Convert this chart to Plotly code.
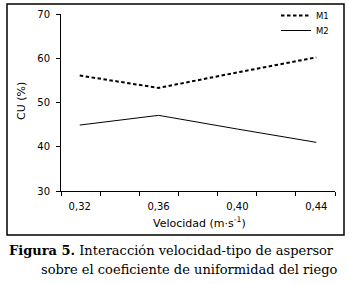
import plotly.graph_objects as go

# ---- data ----
velocidad = [0.32, 0.36, 0.40, 0.44]
m1 = [56.1, 53.3, 56.8, 60.2]
m2 = [44.9, 47.1, 44.0, 41.0]
x_tickvals = [0.32, 0.36, 0.40, 0.44]
x_ticktext = ["0,32", "0,36", "0,40", "0,44"]
y_tickvals = [30, 40, 50, 60, 70]

W, H = 349, 284
L, R, T, B = 61, 14, 14, 93
PW, PH = W - L - R, H - T - B


def px(x):
    return (x - L) / PW


def py(y):
    return (H - B - y) / PH


fig = go.Figure()
fig.add_trace(go.Scatter(x=velocidad, y=m1, mode="lines", name="M1", legend="legend",
                         line=dict(color="black", width=2, dash="3.5px,2.5px")))
fig.add_trace(go.Scatter(x=velocidad, y=m2, mode="lines", name="M2", legend="legend2",
                         line=dict(color="black", width=1)))

x0, x1 = 0.3105, 0.4495
minor_vals = [x0 + (x1 - x0) * k / 7 for k in range(8)]

leg_common = dict(xanchor="left", yanchor="top", bgcolor="rgba(0,0,0,0)",
                  font=dict(size=8.5, family="DejaVu Sans"), tracegroupgap=0, itemwidth=30)

fig.update_layout(
    width=W, height=H,
    margin=dict(l=L, r=R, t=T, b=B, pad=0, autoexpand=False),
    paper_bgcolor="white", plot_bgcolor="white",
    font=dict(family="DejaVu Sans", size=10, color="black"),
    showlegend=True,
    legend=dict(x=px(276), y=py(1), **leg_common),
    legend2=dict(x=px(276), y=py(16), **leg_common),
    xaxis=dict(range=[x0, x1], tickmode="array", tickvals=x_tickvals, ticktext=x_ticktext,
               ticks="", showgrid=False, zeroline=False, showline=True,
               linecolor="black", linewidth=1, ticklabelstandoff=6,
               tickfont=dict(size=10, family="DejaVu Sans"),
               minor=dict(tickmode="array", tickvals=minor_vals, ticks="outside",
                          ticklen=4, tickcolor="black", tickwidth=1, showgrid=False)),
    yaxis=dict(range=[30, 70], tickmode="array", tickvals=y_tickvals,
               ticks="outside", ticklen=4, tickcolor="black", tickwidth=1,
               showgrid=False, zeroline=False, showline=True,
               linecolor="black", linewidth=1, ticklabelstandoff=4,
               tickfont=dict(size=10, family="DejaVu Sans")),
)

serif = "DejaVu Serif"
ann = [
    dict(text="Velocidad (m·s<sup>-1</sup>)", x=px(199), y=py(222), xref="paper", yref="paper",
         xanchor="center", yanchor="middle", showarrow=False,
         font=dict(size=11, family="DejaVu Sans")),
    dict(text="CU (%)", x=px(21), y=py(101), xref="paper", yref="paper",
         xanchor="center", yanchor="middle", showarrow=False, textangle=-90,
         font=dict(size=11, family="DejaVu Sans")),
    dict(text="<b>Figura 5.</b> Interacción velocidad-tipo de aspersor",
         x=px(7), y=py(250), xref="paper", yref="paper",
         xanchor="left", yanchor="middle", showarrow=False,
         font=dict(size=13, family=serif)),
    dict(text="sobre el coeficiente de uniformidad del riego", x=px(39), y=py(269),
         xref="paper", yref="paper", xanchor="left", yanchor="middle", showarrow=False,
         font=dict(size=13, family=serif)),
]
fig.update_layout(annotations=ann)

fig.add_shape(type="rect", xref="paper", yref="paper",
              x0=px(7), x1=px(344), y0=py(235), y1=py(4),
              line=dict(color="black", width=1.5), fillcolor="rgba(0,0,0,0)")

fig.write_html("out.html", config={"displayModeBar": False},
               post_script="document.body.style.margin='0';")
